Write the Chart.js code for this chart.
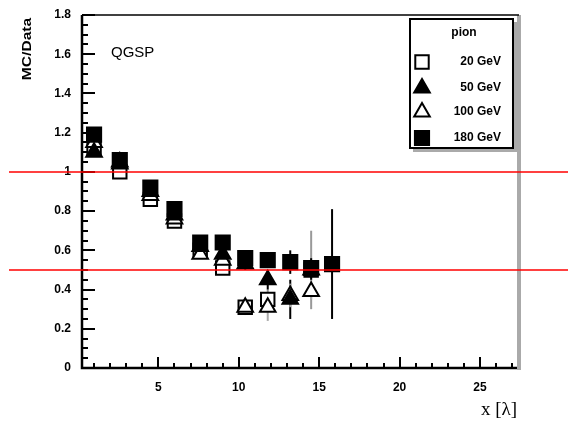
<!DOCTYPE html>
<html>
<head>
<meta charset="utf-8">
<script src="https://cdn.jsdelivr.net/npm/chart.js@4"></script>
<style>
  body { margin: 0; background: #fff; }
  canvas { display: block; }
</style>
</head>
<body>
<canvas id="mcChart" width="568" height="425"></canvas>
<script>
// depth in interaction lengths
const depth = [1.0, 2.6, 4.5, 6.0, 7.6, 9.0, 10.4, 11.8, 13.2, 14.5, 15.8];

// MC/Data ratio per beam energy
const pion20 = [1.12, 1.00, 0.86, 0.75, 0.60, 0.51, 0.31, 0.35, null, 0.50, null];
const pion50 = [1.10, 1.05, 0.90, 0.78, 0.62, 0.58, 0.53, 0.45, 0.35, 0.50, null];
const pion100 = [1.15, 1.04, 0.88, 0.76, 0.58, 0.55, 0.31, 0.31, 0.37, 0.39, null];
const pion180 = [1.19, 1.06, 0.92, 0.81, 0.64, 0.64, 0.56, 0.55, 0.54, 0.51, 0.53];

// errors
const err20 = [0.02, 0.02, 0.02, 0.02, 0.02, 0.02, 0.03, 0.05, null, 0.20, null];
const err50 = [0.02, 0.02, 0.02, 0.02, 0.02, 0.03, 0.03, 0.05, 0.10, 0.05, null];
const err100 = [0.02, 0.02, 0.02, 0.02, 0.02, 0.03, 0.04, 0.07, 0.06, 0.04, null];
const err180 = [0.02, 0.02, 0.02, 0.02, 0.02, 0.03, 0.03, 0.04, 0.06, 0.05, 0.28];

const yTickLabels = ["0", "0.2", "0.4", "0.6", "0.8", "1", "1.2", "1.4", "1.6", "1.8"];
const xTickLabels = ["5", "10", "15", "20", "25"];
const legendLabels = ["20 GeV", "50 GeV", "100 GeV", "180 GeV"];
const refLines = [1.0, 0.5];

const toPoints = (vals) => depth.map((x, i) => ({ x: x, y: vals[i] })).filter(p => p.y !== null);

// order: lower is drawn on top, filled markers stay in front
const series = [
  { label: legendLabels[0], vals: pion20, errs: err20, style: "rect", r: 9.5, fill: "#fff", errColor: "#999", order: 3 },
  { label: legendLabels[1], vals: pion50, errs: err50, style: "triangle", r: 9, fill: "#000", errColor: "#000", order: 1 },
  { label: legendLabels[2], vals: pion100, errs: err100, style: "triangle", r: 9, fill: "#fff", errColor: "#aaa", order: 2 },
  { label: legendLabels[3], vals: pion180, errs: err180, style: "rect", r: 10, fill: "#000", errColor: "#000", order: 0 },
];

// error bars, red lines, frame, ticks, texts and legend
const decorations = {
  id: "decorations",
  beforeDatasetsDraw(chart) {
    const { ctx, scales: { x, y } } = chart;
    ctx.save();
    series.forEach(s => {
      ctx.strokeStyle = s.errColor;
      ctx.lineWidth = 2;
      depth.forEach((d, i) => {
        if (s.vals[i] === null) return;
        const px = x.getPixelForValue(d);
        ctx.beginPath();
        ctx.moveTo(px, y.getPixelForValue(s.vals[i] - s.errs[i]));
        ctx.lineTo(px, y.getPixelForValue(s.vals[i] + s.errs[i]));
        ctx.stroke();
      });
    });
    ctx.restore();
  },
  afterDraw(chart) {
    const { ctx, chartArea: a, scales: { x, y } } = chart;
    ctx.save();

    // frame
    ctx.fillStyle = "#aaa";
    ctx.fillRect(a.right, a.top, 4, a.bottom - a.top + 2);
    ctx.strokeStyle = "#000";
    ctx.lineWidth = 1.5;
    ctx.beginPath();
    ctx.moveTo(a.left, a.top);
    ctx.lineTo(a.right + 2, a.top);
    ctx.stroke();
    ctx.lineWidth = 2.5;
    ctx.beginPath();
    ctx.moveTo(a.left, a.top);
    ctx.lineTo(a.left, a.bottom);
    ctx.lineTo(a.right, a.bottom);
    ctx.stroke();

    // inner ticks
    ctx.lineWidth = 2;
    for (let v = 0; v <= 1.8001; v += 0.05) {
      const py = Math.round(y.getPixelForValue(v));
      const major = Math.abs(v / 0.2 - Math.round(v / 0.2)) < 0.01;
      ctx.beginPath();
      ctx.moveTo(a.left, py);
      ctx.lineTo(a.left + (major ? 13 : 6), py);
      ctx.stroke();
    }
    for (let v = 1; v <= 27; v += 1) {
      const px = Math.round(x.getPixelForValue(v));
      const major = v % 5 === 0;
      ctx.beginPath();
      ctx.moveTo(px, a.bottom);
      ctx.lineTo(px, a.bottom - (major ? 11 : 5));
      ctx.stroke();
    }

    // reference lines
    ctx.strokeStyle = "#ff0000";
    ctx.lineWidth = 1.5;
    refLines.forEach(v => {
      const py = y.getPixelForValue(v);
      ctx.beginPath();
      ctx.moveTo(9, py);
      ctx.lineTo(chart.width, py);
      ctx.stroke();
    });

    // texts
    ctx.fillStyle = "#000";
    ctx.font = "15px 'Liberation Sans', Arial, sans-serif";
    ctx.textAlign = "left";
    ctx.textBaseline = "middle";
    ctx.fillText("QGSP", 111, 53);

    ctx.font = "19px 'Liberation Serif', serif";
    ctx.textAlign = "right";
    ctx.fillText("x [\u03bb]", 517, 410);

    ctx.save();
    ctx.translate(28, 49);
    ctx.rotate(-Math.PI / 2);
    ctx.scale(1.3, 1);
    ctx.font = "bold 12px 'Liberation Sans', Arial, sans-serif";
    ctx.textAlign = "center";
    ctx.fillText("MC/Data", 0, 0);
    ctx.restore();

    // legend
    const lx = 410, ly = 19, lw = 103, lh = 129;
    ctx.fillStyle = "#aaa";
    ctx.fillRect(lx + 3, ly + lh, lw, 4);
    ctx.fillRect(lx + lw, ly + 3, 4, lh + 1);
    ctx.fillStyle = "#fff";
    ctx.fillRect(lx, ly, lw, lh);
    ctx.strokeStyle = "#000";
    ctx.lineWidth = 2;
    ctx.strokeRect(lx, ly, lw, lh);
    ctx.fillStyle = "#000";
    ctx.font = "bold 12px 'Liberation Sans', Arial, sans-serif";
    ctx.textAlign = "center";
    ctx.fillText("pion", lx + 54, ly + 14);
    const rows = [62, 88, 112, 138];
    series.forEach((s, i) => {
      ctx.fillStyle = s.fill;
      ctx.strokeStyle = "#000";
      ctx.lineWidth = 2;
      Chart.helpers.drawPoint(ctx, { pointStyle: s.style, radius: s.r, rotation: 0, borderWidth: 2 }, 422, rows[i]);
      ctx.fillStyle = "#000";
      ctx.textAlign = "right";
      ctx.fillText(s.label, 501, rows[i]);
    });

    ctx.restore();
  }
};

const ctx = document.getElementById("mcChart").getContext("2d");
new Chart(ctx, {
  type: "scatter",
  data: {
    datasets: series.map(s => ({
      label: s.label,
      data: toPoints(s.vals),
      order: s.order,
      pointStyle: s.style,
      pointRadius: s.r,
      pointBorderWidth: 2,
      pointBackgroundColor: s.fill,
      pointBorderColor: "#000",
      showLine: false,
    })),
  },
  options: {
    responsive: false,
    animation: false,
    devicePixelRatio: 1,
    layout: { padding: { top: 15, right: 51, left: 0, bottom: 0 } },
    plugins: {
      legend: { display: false },
      tooltip: { enabled: false },
    },
    scales: {
      x: {
        type: "linear",
        min: 0.25,
        max: 27.3,
        grid: { display: false },
        border: { display: false },
        afterBuildTicks: (axis) => {
          axis.ticks = xTickLabels.map(t => ({ value: Number(t) }));
        },
        afterFit: (axis) => { axis.height = 57; },
        ticks: {
          padding: 4,
          color: "#000",
          font: { family: "'Liberation Sans', Arial, sans-serif", size: 12, weight: "bold" },
          callback: (v) => String(v),
        },
      },
      y: {
        type: "linear",
        min: 0,
        max: 1.8,
        grid: { display: false },
        border: { display: false },
        afterBuildTicks: (axis) => {
          axis.ticks = yTickLabels.map(t => ({ value: Number(t) }));
        },
        afterFit: (axis) => { axis.width = 82; },
        ticks: {
          padding: 3,
          color: "#000",
          font: { family: "'Liberation Sans', Arial, sans-serif", size: 12, weight: "bold" },
          callback: (v) => yTickLabels[Math.round(v / 0.2)],
        },
      },
    },
  },
  plugins: [decorations],
});
</script>
</body>
</html>
